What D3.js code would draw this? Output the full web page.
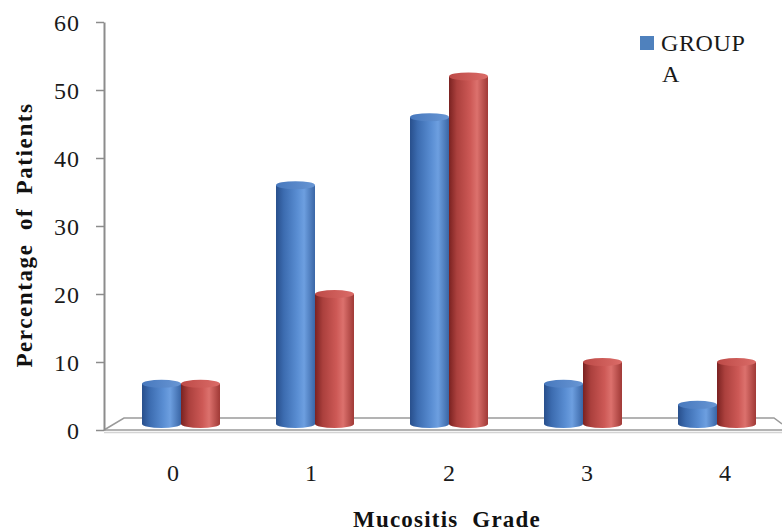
<!DOCTYPE html>
<html>
<head>
<meta charset="utf-8">
<script src="https://cdn.jsdelivr.net/npm/d3@7"></script>
<style>
  body { margin: 0; background: #fff; }
  svg { display: block; }
</style>
</head>
<body>
<svg id="chart" width="782" height="531"></svg>
<script>
const categories = ["0", "1", "2", "3", "4"];
const groupA = [6.8, 36, 46, 6.8, 3.7];
const groupB = [6.8, 20, 52, 10, 10];
const yTicks = [0, 10, 20, 30, 40, 50, 60];
const legendLines = ["GROUP", "A"];

const svg = d3.select("#chart");
const fontSerif = "'Liberation Serif', 'DejaVu Serif', serif";

const y = d3.scaleLinear().domain([0, 60]).range([430, 22]);
// depth planes of the 3D floor
const xFront = d3.scaleBand().domain(categories).range([104, 794]);
const xMid = d3.scaleBand().domain(categories).range([114, 784]).paddingInner(0.418).paddingOuter(0.209);
const xBack = d3.scaleBand().domain(categories).range([124, 774]);
const xSeries = d3.scaleBand().domain(["A", "B"]).range([0, xMid.bandwidth()]);

const defs = svg.append("defs");
function cylGrad(id, stops) {
  const g = defs.append("linearGradient").attr("id", id).attr("x1", "0").attr("x2", "1").attr("y1", "0").attr("y2", "0");
  stops.forEach(s => g.append("stop").attr("offset", s[0]).attr("stop-color", s[1]));
}
cylGrad("bodyA", [[0, "#284f8c"], [0.2, "#3c6cb0"], [0.55, "#5a8ed3"], [0.72, "#6d9fe0"], [1, "#3a66a6"]]);
cylGrad("bodyB", [[0, "#7a2221"], [0.2, "#ab403d"], [0.55, "#cd5956"], [0.72, "#dc716d"], [1, "#a03936"]]);
cylGrad("topA", [[0, "#4778bd"], [1, "#6896d4"]]);
cylGrad("topB", [[0, "#bd4a47"], [1, "#db6c68"]]);

// floor
const floorY0 = y(0), floorBack = floorY0 - 12;
const fx0 = xFront.range()[0], bx0 = xBack.range()[0], bx1 = xBack.range()[1];
svg.append("path")
  .attr("d", `M${fx0},${floorY0} L${bx0},${floorBack} L${bx1},${floorBack} L${bx1 + 8},${floorBack + 6}`)
  .attr("fill", "none").attr("stroke", "#9a9a9a").attr("stroke-width", 1.5);
svg.append("line").attr("x1", fx0).attr("x2", 782).attr("y1", floorY0).attr("y2", floorY0)
  .attr("stroke", "#9a9a9a").attr("stroke-width", 1.5);
svg.append("line").attr("x1", fx0).attr("x2", 782).attr("y1", floorY0 + 2.5).attr("y2", floorY0 + 2.5)
  .attr("stroke", "#d4d4d4").attr("stroke-width", 1.5);

// y axis
const yAxis = d3.axisLeft(y).tickValues(yTicks).tickSize(8).tickSizeOuter(0).tickPadding(16);
const ya = svg.append("g").attr("transform", "translate(104,0)").call(yAxis);
ya.select(".domain").attr("stroke", "#8c8c8c").attr("stroke-width", 2);
ya.selectAll(".tick line").attr("stroke", "#8c8c8c").attr("stroke-width", 1.5);
ya.selectAll(".tick text").attr("font-family", fontSerif).attr("font-size", 24).attr("fill", "#1a1a1a")
  .attr("letter-spacing", 1).attr("dy", "0.34em");

// x axis labels (front edge)
const xAxis = d3.axisBottom(xFront).tickSize(0).tickPadding(34);
const xa = svg.append("g").attr("transform", `translate(0,${floorY0})`).call(xAxis);
xa.select(".domain").remove();
xa.selectAll(".tick text").attr("font-family", fontSerif).attr("font-size", 24).attr("fill", "#1a1a1a");

// bars as cylinders
const rx = xSeries.bandwidth() / 2, ry = 4;
const bottomY = floorY0 - 6;
const data = [];
categories.forEach((c, i) => {
  data.push({ c, s: "A", v: groupA[i] });
  data.push({ c, s: "B", v: groupB[i] });
});
const bars = svg.append("g").selectAll("g").data(data).join("g");
bars.append("path")
  .attr("d", d => {
    const cx = xMid(d.c) + xSeries(d.s) + rx;
    const top = y(d.v);
    return `M${cx - rx},${top} L${cx - rx},${bottomY} A${rx},${ry} 0 0 0 ${cx + rx},${bottomY} L${cx + rx},${top} Z`;
  })
  .attr("fill", d => `url(#body${d.s})`);
bars.append("ellipse")
  .attr("cx", d => xMid(d.c) + xSeries(d.s) + rx)
  .attr("cy", d => y(d.v))
  .attr("rx", rx).attr("ry", ry)
  .attr("fill", d => `url(#top${d.s})`);

// axis titles
svg.append("text")
  .attr("transform", "translate(32,235) rotate(-90)")
  .attr("text-anchor", "middle")
  .attr("font-family", fontSerif).attr("font-weight", "bold").attr("font-size", 23).attr("fill", "#111")
  .attr("letter-spacing", 1.6).attr("word-spacing", 6)
  .text("Percentage of Patients");
svg.append("text")
  .attr("x", 447).attr("y", 527)
  .attr("text-anchor", "middle")
  .attr("font-family", fontSerif).attr("font-weight", "bold").attr("font-size", 23).attr("fill", "#111")
  .attr("letter-spacing", 1.2).attr("word-spacing", 7)
  .text("Mucositis Grade");

// legend
const lg = svg.append("g");
lg.append("rect").attr("x", 640).attr("y", 36).attr("width", 14).attr("height", 14).attr("fill", "#4f81bd");
lg.selectAll("text").data(legendLines).join("text")
  .attr("x", (d, i) => i === 0 ? 661 : 662)
  .attr("y", (d, i) => 51 + i * 31)
  .attr("font-family", fontSerif).attr("font-size", 24).attr("fill", "#1a1a1a")
  .attr("letter-spacing", (d, i) => i === 0 ? 0.6 : 0)
  .text(d => d);
</script>
</body>
</html>
